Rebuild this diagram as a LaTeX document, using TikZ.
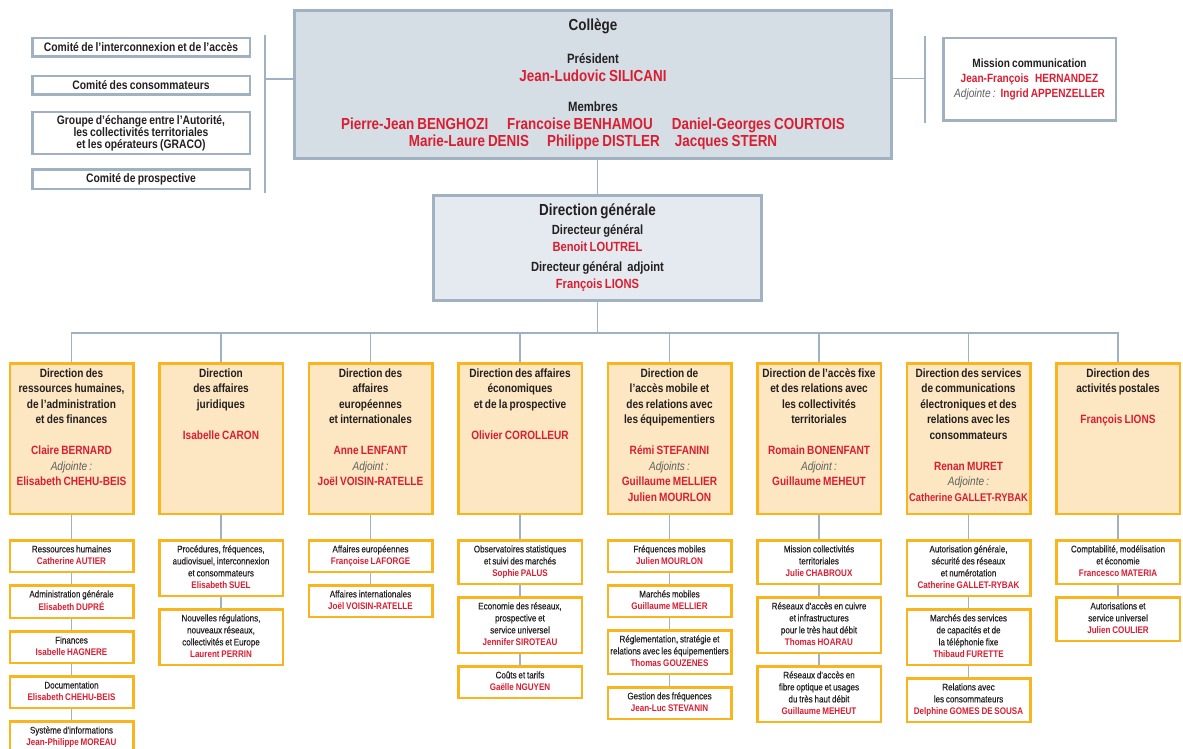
\documentclass[tikz,border=0pt]{standalone}
\usepackage{fontspec}
\setmainfont{Liberation Sans}[FakeStretch=0.84, WordSpace=0.8]
\newfontfamily\medfont{Liberation Sans}[FakeStretch=0.84, WordSpace=0.8, FakeBold=0.35]
\usepackage{xcolor}
\usepackage{tikz}
\usetikzlibrary{positioning}
\definecolor{arcepred}{RGB}{218,30,50}
\definecolor{inkgray}{RGB}{35,31,32}
\definecolor{steelgray}{RGB}{160,178,194}
\definecolor{collegefill}{RGB}{214,222,229}
\definecolor{dgfill}{RGB}{228,234,239}
\definecolor{amberline}{RGB}{250,180,30}
\definecolor{peach}{RGB}{253,231,194}
\definecolor{adjgray}{RGB}{95,95,95}
\newcommand{\dirtext}[1]{\parbox[t][140pt][t]{121.5pt}{\centering #1}}
\newcommand{\chef}[1]{{\rmfamily\bfseries\color{arcepred}#1}}

\begin{document}
\begin{tikzpicture}[
  x=1pt, y=-1pt,
  every node/.style={text=inkgray},
  instance/.style={draw=steelgray, line width=3pt, align=center, font=\bfseries},
  comite/.style={draw=steelgray, line width=2.5pt, align=center, minimum width=217.5pt, inner sep=2pt, font=\fontsize{12.3}{12}\selectfont\bfseries},
  direction/.style={draw=amberline, fill=peach, line width=2.5pt, inner xsep=1pt, inner ysep=5.25pt, font=\fontsize{12}{15.5}\selectfont\bfseries},
  service/.style={draw=amberline, fill=white, line width=2.5pt, text width=121pt, align=flush center, inner xsep=1.25pt, inner ysep=3.75pt, font=\medfont\fontsize{9.6}{12}\selectfont, execute at begin node=\strut, execute at end node=\strut},
  link/.style={draw=steelgray, line width=1.8pt}
]
  \useasboundingbox (0,0) rectangle (1183,749);
  \clip (0,0) rectangle (1183,749);

  % College and its side bodies
  \node[instance, fill=collegefill, minimum width=597pt, minimum height=148pt, font=\fontsize{16}{17.5}\selectfont\bfseries] (college) at (593,84.5) {
    Collège\\[16pt]
    {\fontsize{13.5}{16}\selectfont Président}\\
    \textcolor{arcepred}{Jean-Ludovic SILICANI}\\[13pt]
    {\fontsize{13.5}{16}\selectfont Membres}\\
    \textcolor{arcepred}{Pierre-Jean BENGHOZI\hspace{19pt}Francoise BENHAMOU\hspace{19pt}Daniel-Georges COURTOIS}\\
    \textcolor{arcepred}{Marie-Laure DENIS\hspace{18pt}Philippe DISTLER\hspace{15pt}Jacques STERN}
  };

  \node[comite, minimum height=18.5pt] (comIC) at (141,47.5) {Comité de l'interconnexion et de l'accès};
  \node[comite, minimum height=18.5pt] (comConso) at (141,85.5) {Comité des consommateurs};
  \node[comite, minimum height=41.5pt] (comGraco) at (141,133) {Groupe d'échange entre l'Autorité,\\les collectivités territoriales\\et les opérateurs (GRACO)};
  \node[comite, minimum height=19.5pt] (comProsp) at (141,179) {Comité de prospective};

  \node[instance, fill=white, line width=2.5pt, minimum width=172.5pt, minimum height=82.5pt, font=\fontsize{12}{15}\selectfont\bfseries] (mission) at (1029.5,79.5) {
    Mission communication\\
    \textcolor{arcepred}{Jean-François\hspace{6pt}HERNANDEZ}\\
    {\mdseries\itshape\color{adjgray}Adjointe :}\hspace{5pt}\textcolor{arcepred}{Ingrid APPENZELLER}
  };

  \coordinate (comtop) at (265,35);
  \coordinate (combot) at (265,193);
  \coordinate (misstop) at (925,36);
  \coordinate (missbot) at (925,123);
  \draw[link] (comtop) -- (combot);
  \draw[link] ([yshift=5.5pt]college.west) -- ([yshift=5.5pt]college.west -| comtop);
  \draw[link] (misstop) -- (missbot);
  \draw[link] ([yshift=6pt]college.east) -- ([yshift=6pt]college.east -| misstop);

  % Direction generale
  \node[instance, fill=dgfill, minimum width=328pt, minimum height=105pt, font=\fontsize{13.3}{17}\selectfont\bfseries] (dg) at (597.5,248) {
    {\fontsize{16}{17}\selectfont Direction générale}\\[2pt]
    Directeur général\\
    \textcolor{arcepred}{Benoit LOUTREL}\\[3pt]
    Directeur général\hspace{5pt}adjoint\\
    \textcolor{arcepred}{François LIONS}
  };
  \draw[link] (college.south -| dg.north) -- (dg.north);

  % The eight directions
  \node[direction, anchor=north] (dirRH) at (71.5,362) {\dirtext{Direction des\\ressources humaines,\\de l'administration\\et des finances\\[15.5pt]
    \textcolor{arcepred}{Claire BERNARD}\\{\mdseries\itshape\color{adjgray}Adjointe :}\\\textcolor{arcepred}{Elisabeth CHEHU-BEIS}}};
  \node[direction, right=23.5pt of dirRH] (dirJur) {\dirtext{Direction\\des affaires\\juridiques\\[15.5pt]
    \textcolor{arcepred}{Isabelle CARON}}};
  \node[direction, right=23.5pt of dirJur] (dirEur) {\dirtext{Direction des\\affaires\\européennes\\et internationales\\[15.5pt]
    \textcolor{arcepred}{Anne LENFANT}\\{\mdseries\itshape\color{adjgray}Adjoint :}\\\textcolor{arcepred}{Joël VOISIN-RATELLE}}};
  \node[direction, right=23.5pt of dirEur] (dirEco) {\dirtext{Direction des affaires\\économiques\\et de la prospective\\[15.5pt]
    \textcolor{arcepred}{Olivier COROLLEUR}}};
  \node[direction, right=23.5pt of dirEco] (dirMob) {\dirtext{Direction de\\l'accès mobile et\\des relations avec\\les équipementiers\\[15.5pt]
    \textcolor{arcepred}{Rémi STEFANINI}\\{\mdseries\itshape\color{adjgray}Adjoints :}\\\textcolor{arcepred}{Guillaume MELLIER}\\\textcolor{arcepred}{Julien MOURLON}}};
  \node[direction, right=23.5pt of dirMob] (dirFixe) {\dirtext{Direction de l'accès fixe\\et des relations avec\\les collectivités\\territoriales\\[15.5pt]
    \textcolor{arcepred}{Romain BONENFANT}\\{\mdseries\itshape\color{adjgray}Adjoint :}\\\textcolor{arcepred}{Guillaume MEHEUT}}};
  \node[direction, right=23.5pt of dirFixe] (dirSce) {\dirtext{Direction des services\\de communications\\électroniques et des\\relations avec les\\consommateurs\\[15.5pt]
    \textcolor{arcepred}{Renan MURET}\\{\mdseries\itshape\color{adjgray}Adjointe :}\\\mbox{\fontsize{11.2}{15.5}\selectfont\textcolor{arcepred}{Catherine GALLET-RYBAK}}}};
  \node[direction, right=23.5pt of dirSce] (dirPost) {\dirtext{Direction des\\activités postales\\[15.5pt]
    \textcolor{arcepred}{François LIONS}}};

  \coordinate (bus) at (597.5,333);
  \draw[link] (dg) -- (bus);
  \draw[link] (dirRH.north) |- (bus) -| (dirPost.north);
  \draw[link] (dirJur.north) -- (dirJur.north |- bus) (dirEur.north) -- (dirEur.north |- bus)
    (dirEco.north) -- (dirEco.north |- bus) (dirMob.north) -- (dirMob.north |- bus)
    (dirFixe.north) -- (dirFixe.north |- bus) (dirSce.north) -- (dirSce.north |- bus);

  % Services under each direction
  \node[service, below=24pt of dirRH] (rh1) {Ressources humaines\\\chef{Catherine AUTIER}};
  \node[service, below=11pt of rh1] (rh2) {Administration générale\\\chef{Elisabeth DUPRÉ}};
  \node[service, below=11pt of rh2] (rh3) {Finances\\\chef{Isabelle HAGNERE}};
  \node[service, below=11pt of rh3] (rh4) {Documentation\\\chef{Elisabeth CHEHU-BEIS}};
  \node[service, below=11pt of rh4] (rh5) {Système d'informations\\\chef{Jean-Philippe MOREAU}};

  \node[service, below=24pt of dirJur] (jur1) {Procédures, fréquences,\\audiovisuel, interconnexion\\et consommateurs\\\chef{Elisabeth SUEL}};
  \node[service, below=11pt of jur1] (jur2) {Nouvelles régulations,\\nouveaux réseaux,\\collectivités et Europe\\\chef{Laurent PERRIN}};

  \node[service, below=24pt of dirEur] (eur1) {Affaires européennes\\\chef{Françoise LAFORGE}};
  \node[service, below=11pt of eur1] (eur2) {Affaires internationales\\\chef{Joël VOISIN-RATELLE}};

  \node[service, below=24pt of dirEco] (eco1) {Observatoires statistiques\\et suivi des marchés\\\chef{Sophie PALUS}};
  \node[service, below=11pt of eco1] (eco2) {Economie des réseaux,\\prospective et\\service universel\\\chef{Jennifer SIROTEAU}};
  \node[service, below=11pt of eco2] (eco3) {Coûts et tarifs\\\chef{Gaëlle NGUYEN}};

  \node[service, below=24pt of dirMob] (mob1) {Fréquences mobiles\\\chef{Julien MOURLON}};
  \node[service, below=11pt of mob1] (mob2) {Marchés mobiles\\\chef{Guillaume MELLIER}};
  \node[service, below=11pt of mob2] (mob3) {Réglementation, stratégie et\\\mbox{relations avec les équipementiers}\\\chef{Thomas GOUZENES}};
  \node[service, below=11pt of mob3] (mob4) {Gestion des fréquences\\\chef{Jean-Luc STEVANIN}};

  \node[service, below=24pt of dirFixe] (fixe1) {Mission collectivités\\territoriales\\\chef{Julie CHABROUX}};
  \node[service, below=11pt of fixe1] (fixe2) {Réseaux d'accès en cuivre\\et infrastructures\\pour le très haut débit\\\chef{Thomas HOARAU}};
  \node[service, below=11pt of fixe2] (fixe3) {Réseaux d'accès en\\fibre optique et usages\\du très haut débit\\\chef{Guillaume MEHEUT}};

  \node[service, below=24pt of dirSce] (sce1) {Autorisation générale,\\sécurité des réseaux\\et numérotation\\\chef{Catherine GALLET-RYBAK}};
  \node[service, below=11pt of sce1] (sce2) {Marchés des services\\de capacités et de\\la téléphonie fixe\\\chef{Thibaud FURETTE}};
  \node[service, below=11pt of sce2] (sce3) {Relations avec\\les consommateurs\\\chef{Delphine GOMES DE SOUSA}};

  \node[service, below=24pt of dirPost] (post1) {Comptabilité, modélisation\\et économie\\\chef{Francesco MATERIA}};
  \node[service, below=11pt of post1] (post2) {Autorisations et\\service universel\\\chef{Julien COULIER}};

  \draw[link] (dirRH) -- (rh1) -- (rh2) -- (rh3) -- (rh4) -- (rh5);
  \draw[link] (dirJur) -- (jur1) -- (jur2);
  \draw[link] (dirEur) -- (eur1) -- (eur2);
  \draw[link] (dirEco) -- (eco1) -- (eco2) -- (eco3);
  \draw[link] (dirMob) -- (mob1) -- (mob2) -- (mob3) -- (mob4);
  \draw[link] (dirFixe) -- (fixe1) -- (fixe2) -- (fixe3);
  \draw[link] (dirSce) -- (sce1) -- (sce2) -- (sce3);
  \draw[link] (dirPost) -- (post1) -- (post2);

\end{tikzpicture}
\end{document}
